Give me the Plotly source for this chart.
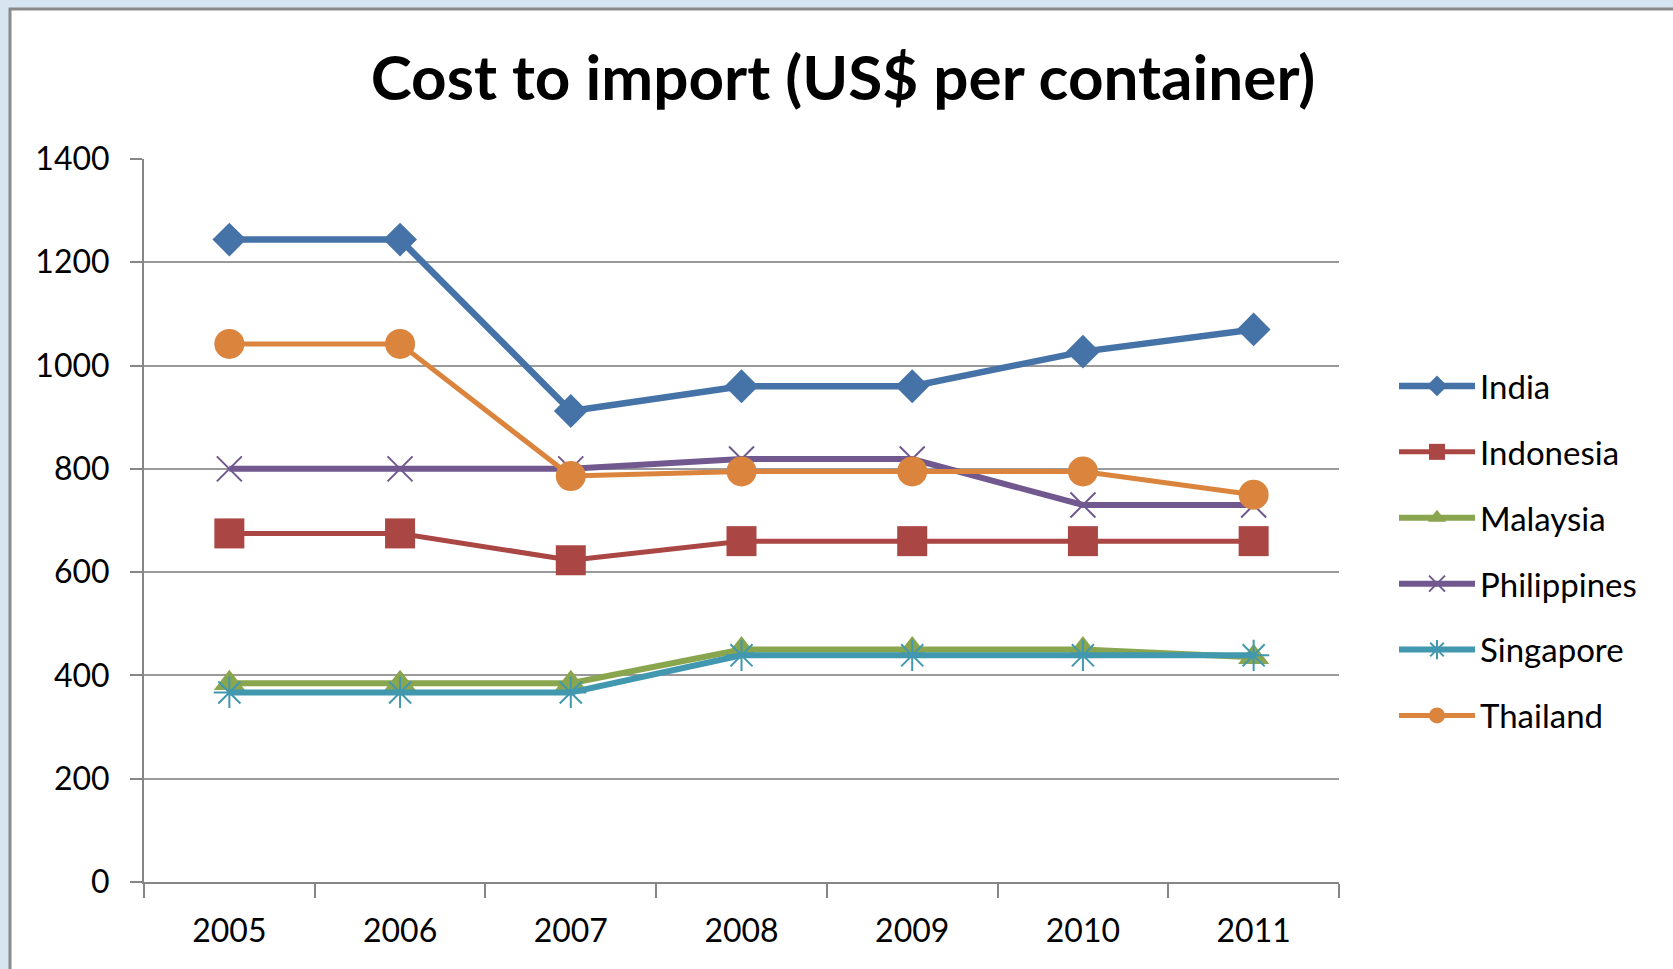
import plotly.graph_objects as go

years = ["2005", "2006", "2007", "2008", "2009", "2010", "2011"]
india = [1244, 1244, 912, 960, 960, 1027, 1070]
indonesia = [675, 675, 623, 660, 660, 660, 660]
malaysia = [385, 385, 385, 450, 450, 450, 435]
philippines = [800, 800, 800, 819, 819, 730, 730]
singapore = [367, 367, 367, 439, 439, 439, 439]
thailand = [1042, 1042, 786, 795, 795, 795, 750]
y_ticks = [0, 200, 400, 600, 800, 1000, 1200, 1400]

series = [
    ("India", india, "#4572A7", "diamond", 26, 6.5),
    ("Indonesia", indonesia, "#AA4643", "square", 30, 5),
    ("Malaysia", malaysia, "#89A54E", "triangle-up", 27, 6),
    ("Philippines", philippines, "#71588F", "x-thin-open", 25, 6),
    ("Singapore", singapore, "#4198AF", "asterisk-open", 26, 6),
    ("Thailand", thailand, "#DB843D", "circle", 30, 5),
]

W, H = 1673, 969
L, R, T, B = 144, 1339, 159, 882

fig = go.Figure()
for i, (name, vals, col, sym, sz, lw) in enumerate(series):
    open_sym = sym.endswith("open")
    fig.add_trace(go.Scatter(
        x=years, y=vals, name=name, mode="lines+markers",
        legendgroup=f"g{i}",
        line=dict(color=col, width=lw),
        marker=dict(symbol=sym, size=sz, color=col,
                    line=dict(color=col, width=2 if open_sym else 0)),
    ))

def px_x(px):
    return (px - L) / (R - L)

def px_y(py):
    return (B - py) / (B - T)

# chart frame (white card with grey border on light blue backdrop)
fig.add_shape(type="rect", xref="paper", yref="paper",
              x0=px_x(10), x1=px_x(1700), y0=px_y(1000), y1=px_y(9),
              fillcolor="white", line=dict(color="#8a8a8a", width=3), layer="below")

fig.update_layout(
    width=W, height=H,
    margin=dict(l=L, r=W - R, t=T, b=H - B, pad=0),
    paper_bgcolor="#D6E5F0",
    plot_bgcolor="white",
    font=dict(family="Lato, Open Sans, sans-serif", color="black", size=32),
    title=dict(text="<b>Cost to import (US$ per container)</b>",
               x=843 / W, xanchor="center", xref="container",
               y=1 - 78 / H, yanchor="middle", yref="container",
               font=dict(size=62, family="Lato, Open Sans, sans-serif", color="black")),
    showlegend=True,
    legend=dict(x=px_x(1394), xanchor="left", y=px_y(358), yanchor="top",
                traceorder="grouped", tracegroupgap=20, itemwidth=76,
                font=dict(size=33), bgcolor="rgba(0,0,0,0)",
                itemsizing="trace"),
    xaxis=dict(type="category", range=[-0.5, 6.5], showgrid=False,
               showline=True, linecolor="#868686", linewidth=2,
               ticks="outside", tickson="boundaries", ticklen=14,
               tickcolor="#868686", tickwidth=2, ticklabelstandoff=20,
               tickfont=dict(size=32)),
    yaxis=dict(range=[0, 1400], tickvals=y_ticks, showgrid=True,
               gridcolor="#9a9a9a", gridwidth=1.5,
               showline=True, linecolor="#868686", linewidth=2,
               ticks="outside", ticklen=12, tickcolor="#868686", tickwidth=2,
               ticklabelstandoff=14, zeroline=False,
               tickfont=dict(size=32)),
)

fig.write_html("out.html")
